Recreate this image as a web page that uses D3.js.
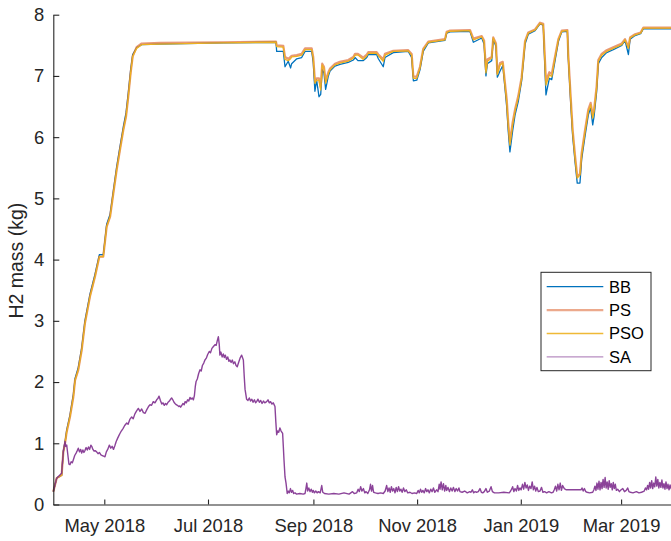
<!DOCTYPE html>
<html>
<head>
<meta charset="utf-8">
<script src="https://cdn.jsdelivr.net/npm/d3@7"></script>
<style>
  body { margin: 0; background: #fff; }
  svg { display: block; font-family: "Liberation Sans", Arial, sans-serif; }
</style>
</head>
<body>
<div id="chart-container"></div>
<script>
// H2 mass per method, samples
const startDate = "2018-04-01";
const endDate = "2019-04-01";
const seriesNames = ["BB", "PS", "PSO", "SA"];
const yTicks = [0, 1, 2, 3, 4, 5, 6, 7, 8];

// days since startDate for the three storage curves
const upperDays = [
  0, 2, 4.9, 5.9, 6.9, 7.9, 9.8, 11.8, 12.8, 14.7, 16.7, 18.6, 21.6, 24.5, 27.1, 29.4,
  31.4, 33.4, 35.3, 37.3, 39.2, 41.2, 42.8, 44.1, 45.5, 46.7, 49, 52, 62.8, 100, 131,
  131.4, 135.3, 136.3, 138.2, 139.6, 140.2, 143.2, 146.1, 148.1, 152, 152.9, 153.9, 154.9,
  156.3, 157.3, 158.2, 159.2, 160.2, 161.8, 162.8, 165.7, 168.6, 173.5, 176.5, 177.5,
  179.2, 182.4, 184.4, 185.3, 190.2, 191.2, 194.1, 195.1, 200, 208.8, 210.8, 211.8, 213.8,
  215.7, 217.6, 220.6, 230.4, 231.4, 233.4, 245.1, 247.1, 252, 253.4, 254.5, 255.3, 257.9,
  258.8, 260.4, 261.2, 262.8, 264.4, 265.7, 266.7, 267.6, 268.6, 270.2, 271.6, 273.5,
  275.5, 277.5, 279.4, 283.4, 286.3, 288.2, 289.8, 291.8, 293.2, 295.1, 297.1, 299.1,
  302.4, 302.9, 304.3, 305.5, 306.9, 308.2, 309.8, 310.8, 312.8, 314.7, 316.1, 317.3,
  318.1, 319.6, 320.6, 322.6, 325.5, 329.4, 334.4, 336.3, 338.3, 339.3, 342.2, 345.5,
  347.1, 365
];
const bbValues = [
  0.21, 0.43, 0.48, 0.88, 1.02, 1.22, 1.46, 1.80, 2.06, 2.24, 2.56, 3.00, 3.44, 3.76, 4.08, 4.08,
  4.58, 4.74, 5.12, 5.52, 5.84, 6.17, 6.40, 6.72, 7.10, 7.35, 7.46, 7.51, 7.52, 7.54, 7.55,
  7.40, 7.40, 7.15, 7.24, 7.13, 7.20, 7.28, 7.30, 7.40, 7.40, 7.22, 6.75, 6.93,
  6.66, 6.70, 7.10, 7.05, 6.78, 7.00, 7.08, 7.16, 7.19, 7.22, 7.26, 7.30,
  7.25, 7.25, 7.30, 7.35, 7.35, 7.28, 7.15, 7.30, 7.38, 7.40, 7.30, 6.92, 6.93,
  7.10, 7.40, 7.54, 7.58, 7.70, 7.72, 7.73, 7.55, 7.62, 7.52, 7.00, 7.20, 7.25,
  7.60, 7.48, 6.98, 7.08, 7.17, 6.80, 6.50, 6.10, 5.76, 6.10, 6.36, 6.58,
  6.92, 7.52, 7.68, 7.74, 7.85, 7.83, 6.69, 6.96, 6.94, 7.24, 7.56, 7.72,
  7.73, 7.30, 6.58, 6.02, 5.60, 5.25, 5.25, 5.64, 6.02, 6.36, 6.48, 6.20,
  6.34, 6.74, 7.20, 7.30, 7.38, 7.43, 7.50, 7.58, 7.35, 7.60, 7.66, 7.69,
  7.77, 7.77
];
const psValues = [
  0.21, 0.43, 0.48, 0.86, 1.00, 1.19, 1.43, 1.76, 2.03, 2.20, 2.52, 2.96, 3.40, 3.72, 4.05, 4.05,
  4.54, 4.70, 5.08, 5.47, 5.79, 6.12, 6.34, 6.66, 7.05, 7.32, 7.47, 7.53, 7.54, 7.55, 7.56,
  7.50, 7.49, 7.31, 7.28, 7.31, 7.33, 7.34, 7.36, 7.45, 7.45, 7.31, 6.92, 6.96,
  6.96, 6.82, 7.20, 7.15, 6.92, 7.06, 7.12, 7.20, 7.23, 7.26, 7.31, 7.36,
  7.36, 7.30, 7.35, 7.39, 7.39, 7.35, 7.27, 7.36, 7.41, 7.42, 7.36, 6.99, 6.99,
  7.15, 7.44, 7.56, 7.60, 7.72, 7.74, 7.75, 7.61, 7.65, 7.58, 7.10, 7.27, 7.31,
  7.63, 7.53, 7.05, 7.21, 7.23, 6.88, 6.62, 6.24, 5.92, 6.24, 6.45, 6.67,
  6.98, 7.57, 7.71, 7.76, 7.87, 7.85, 6.92, 7.06, 7.03, 7.31, 7.60, 7.74,
  7.75, 7.36, 6.68, 6.12, 5.70, 5.36, 5.40, 5.74, 6.12, 6.45, 6.56, 6.36,
  6.45, 6.83, 7.26, 7.36, 7.42, 7.47, 7.53, 7.60, 7.47, 7.63, 7.68, 7.71,
  7.79, 7.79
];
const psoValues = [
  0.21, 0.43, 0.48, 0.86, 1.00, 1.19, 1.43, 1.76, 2.03, 2.20, 2.52, 2.96, 3.40, 3.72, 4.05, 4.05,
  4.54, 4.70, 5.08, 5.47, 5.79, 6.12, 6.34, 6.66, 7.05, 7.32, 7.45, 7.51, 7.52, 7.54, 7.55,
  7.48, 7.47, 7.27, 7.25, 7.28, 7.31, 7.32, 7.34, 7.43, 7.43, 7.29, 6.88, 6.93,
  6.93, 6.77, 7.18, 7.12, 6.88, 7.04, 7.10, 7.18, 7.21, 7.24, 7.29, 7.34,
  7.34, 7.27, 7.33, 7.37, 7.37, 7.33, 7.24, 7.34, 7.40, 7.41, 7.34, 6.96, 6.96,
  7.13, 7.43, 7.55, 7.59, 7.71, 7.73, 7.74, 7.59, 7.64, 7.56, 7.05, 7.24, 7.29,
  7.62, 7.51, 7.02, 7.18, 7.21, 6.85, 6.58, 6.20, 5.87, 6.20, 6.42, 6.64,
  6.96, 7.56, 7.70, 7.75, 7.86, 7.84, 6.85, 7.02, 6.99, 7.29, 7.59, 7.73,
  7.74, 7.34, 6.64, 6.09, 5.66, 5.33, 5.38, 5.71, 6.09, 6.42, 6.53, 6.31,
  6.42, 6.80, 7.24, 7.34, 7.40, 7.45, 7.51, 7.59, 7.45, 7.62, 7.67, 7.70,
  7.78, 7.78
];

// SA has its own, denser time axis
const saDays = [
  0, 2, 4.9, 5.9, 6.9, 7.3, 7.9, 8.6, 9.2, 9.8, 10.5, 11.2, 11.8, 12.6, 13.4, 14.1, 14.7,
  15.4, 16.1, 16.7, 17.4, 18, 18.6, 19.3, 20, 20.7, 21.4, 22.1, 22.6, 23.3, 24, 24.6, 25.5,
  26.3, 27.1, 28, 28.8, 29.6, 30.4, 31.2, 32, 33, 33.8, 34.6, 35.4, 36.2, 37, 37.8, 38.5,
  39.2, 40, 41, 42, 43.2, 44, 45, 46.1, 47, 48, 49, 50, 51, 52, 53, 54, 55, 56, 56.9,
  57.8, 58.8, 59.8, 60.8, 61.5, 62.2, 63, 63.8, 64.5, 65.3, 66, 66.7, 67.5, 68.3, 69, 69.6,
  70.3, 71, 71.6, 72.3, 73, 73.8, 74.4, 74.9, 75.6, 76.3, 77, 77.5, 78.3, 79, 79.7, 80.4,
  81, 81.7, 82.4, 83, 83.5, 84, 84.7, 85.5, 86.3, 87, 87.7, 88.5, 89.2, 90, 90.8, 91.8,
  92.5, 93.3, 94.2, 95.1, 95.8, 96.5, 97.1, 97.6, 98, 98.6, 99.3, 100, 100.6, 101.2, 101.9,
  102.6, 103.3, 103.9, 104.6, 105.3, 106, 106.8, 107.5, 108.2, 109, 110, 110.8, 111.8,
  112.3, 112.8, 113.7, 114.5, 115.3, 116, 116.8, 117.5, 118.3, 119, 119.6, 120.4, 121.2,
  122, 122.8, 123.6, 124.4, 125.5, 126.3, 127, 127.8, 128.6, 129.4, 130.4, 130.9, 131.4,
  132, 132.6, 133.3, 134, 134.9, 135.3, 135.7, 136.3, 136.9, 137.6, 138.2, 138.8, 139.5,
  140.1, 140.8, 141.4, 142.2, 143, 145, 147, 148.1, 148.6, 149.1, 149.6, 150.3, 151, 151.7,
  152.4, 152.9, 153.6, 154.4, 155.2, 156, 157, 157.9, 158.5, 159.5, 162, 165, 168, 171, 174,
  176, 177, 178.5, 179.3, 180, 180.8, 181.5, 182.4, 183.2, 184, 185, 186, 186.6, 187.2,
  187.8, 188.4, 189.5, 191, 192.5, 194.1, 195.2, 196.1, 196.8, 197.5, 198.2, 198.9, 199.6,
  200.3, 201, 201.7, 202.4, 203.1, 203.8, 204.5, 205.2, 206, 206.8, 207.6, 208.5, 209.8,
  211, 212.5, 213.8, 214.6, 215.3, 216, 216.7, 217.4, 218.2, 219, 219.7, 220.4, 221.2, 222,
  222.8, 223.6, 224.4, 225.5, 226.3, 227, 227.5, 228.1, 228.8, 229.5, 230.2, 230.9, 231.4,
  232.2, 233, 233.8, 234.6, 235.4, 236.2, 237, 237.8, 238.6, 239.2, 240.5, 242, 243.5, 245,
  245.7, 246.5, 247.3, 248, 249, 250, 251, 251.8, 252.6, 253.5, 254.5, 255.3, 256.5, 257.5,
  258.3, 259.5, 262, 265, 268.2, 269, 269.6, 270.2, 270.9, 271.6, 272.4, 273.1, 273.8,
  274.5, 275.2, 276, 276.7, 277.4, 278.1, 278.8, 279.5, 280.2, 281, 281.7, 282.4, 283.1,
  283.8, 284.5, 285.3, 286.3, 287.2, 288, 289, 290.2, 291.5, 293, 294, 294.7, 295.4, 296.1,
  296.8, 297.5, 298.2, 298.9, 299.6, 300.6, 301.6, 310.4, 311, 311.7, 312.4, 313.2, 314,
  315.5, 317.3, 318, 318.6, 319.2, 319.8, 320.4, 321, 321.6, 322.2, 322.8, 323.4, 324,
  324.6, 325.2, 325.8, 326.4, 327, 327.6, 328.2, 328.8, 329.4, 330, 330.6, 331.2, 332, 333,
  334, 335, 336, 337, 337.9, 338.6, 339.5, 341, 343, 344.5, 346, 347.6, 348.3, 349, 349.6,
  350.2, 350.8, 351.4, 352, 352.6, 353.2, 353.8, 354.4, 355, 355.6, 356.2, 356.8, 357.4,
  358, 358.6, 359.2, 359.8, 360.4, 361, 361.6, 362.2, 362.8, 363.4, 364, 364.6, 365
];
const saValues = [
  0.21, 0.43, 0.51, 0.86, 1.03, 0.95, 0.97, 0.80, 0.66, 0.65, 0.70, 0.68, 0.73, 0.80, 0.84, 0.88, 0.92,
  0.86, 0.90, 0.84, 0.89, 0.85, 0.88, 0.93, 0.89, 0.94, 0.90, 0.97, 0.95, 0.90, 0.87, 0.88, 0.86,
  0.83, 0.85, 0.81, 0.80, 0.79, 0.78, 0.86, 0.90, 0.97, 0.92, 0.95, 0.90, 0.96, 1.03, 1.08, 1.12,
  1.16, 1.20, 1.24, 1.29, 1.33, 1.31, 1.39, 1.43, 1.40, 1.48, 1.53, 1.57, 1.52, 1.56, 1.50, 1.49, 1.55, 1.60, 1.63,
  1.62, 1.68, 1.66, 1.71, 1.73, 1.77, 1.70, 1.64, 1.66, 1.62, 1.65, 1.63, 1.67, 1.69, 1.72, 1.74,
  1.71, 1.67, 1.65, 1.63, 1.62, 1.60, 1.61, 1.59, 1.62, 1.65, 1.63, 1.68, 1.66, 1.71, 1.69, 1.75,
  1.72, 1.74, 1.71, 1.78, 1.92, 2.01, 2.05, 2.14, 2.20, 2.18, 2.27, 2.31, 2.36, 2.39, 2.45, 2.50,
  2.48, 2.55, 2.58, 2.61, 2.60, 2.68, 2.74, 2.62, 2.44, 2.49, 2.41, 2.46, 2.40, 2.44, 2.37,
  2.41, 2.34, 2.36, 2.32, 2.36, 2.30, 2.33, 2.27, 2.25, 2.32, 2.40, 2.44, 2.36,
  2.10, 1.88, 1.72, 1.70, 1.74, 1.69, 1.72, 1.67, 1.71, 1.66, 1.68, 1.72, 1.67,
  1.70, 1.65, 1.69, 1.66, 1.68, 1.71, 1.66, 1.68, 1.64, 1.66, 1.60, 1.35, 1.14,
  1.20, 1.18, 1.25, 1.20, 1.16, 0.95, 0.73, 0.45, 0.35, 0.18, 0.22, 0.19, 0.26,
  0.20, 0.23, 0.18, 0.19, 0.17, 0.18, 0.17, 0.18, 0.26, 0.35, 0.22, 0.27, 0.21, 0.25,
  0.20, 0.23, 0.19, 0.22, 0.19, 0.21, 0.19, 0.31, 0.20, 0.18, 0.17, 0.18, 0.17, 0.19, 0.17,
  0.21, 0.18, 0.19, 0.25, 0.21, 0.29, 0.22, 0.26, 0.19, 0.21, 0.18, 0.24, 0.33, 0.22,
  0.31, 0.20, 0.19, 0.18, 0.19, 0.18, 0.22, 0.31, 0.21, 0.27, 0.20, 0.29, 0.22,
  0.26, 0.19, 0.28, 0.21, 0.29, 0.22, 0.25, 0.20, 0.27, 0.21, 0.24, 0.19, 0.20,
  0.18, 0.19, 0.18, 0.23, 0.19, 0.25, 0.20, 0.23, 0.19, 0.26, 0.21, 0.24, 0.19, 0.25,
  0.21, 0.27, 0.20, 0.24, 0.21, 0.33, 0.25, 0.37, 0.24, 0.34, 0.22, 0.31, 0.23,
  0.28, 0.21, 0.27, 0.22, 0.28, 0.21, 0.26, 0.22, 0.27, 0.21, 0.20, 0.22, 0.19, 0.21,
  0.20, 0.24, 0.19, 0.21, 0.20, 0.21, 0.26, 0.20, 0.19, 0.21, 0.26, 0.20, 0.22, 0.29,
  0.21, 0.19, 0.19, 0.20, 0.19, 0.22, 0.25, 0.29, 0.21, 0.26, 0.22, 0.31, 0.23,
  0.27, 0.24, 0.33, 0.25, 0.36, 0.27, 0.32, 0.23, 0.30, 0.26, 0.37, 0.24, 0.30,
  0.22, 0.28, 0.21, 0.22, 0.28, 0.20, 0.21, 0.19, 0.21, 0.19, 0.20, 0.24, 0.30, 0.22,
  0.33, 0.24, 0.35, 0.23, 0.31, 0.26, 0.24, 0.24, 0.27, 0.22, 0.26, 0.21, 0.20,
  0.19, 0.20, 0.24, 0.30, 0.23, 0.35, 0.25, 0.38, 0.24, 0.36, 0.26, 0.41, 0.28,
  0.44, 0.27, 0.37, 0.25, 0.39, 0.28, 0.34, 0.24, 0.36, 0.26, 0.33, 0.23, 0.25, 0.21,
  0.24, 0.26, 0.21, 0.23, 0.27, 0.21, 0.20, 0.19, 0.21, 0.19, 0.20, 0.22, 0.27, 0.24, 0.31,
  0.25, 0.36, 0.27, 0.39, 0.26, 0.35, 0.29, 0.45, 0.30, 0.41, 0.27, 0.36, 0.28,
  0.40, 0.27, 0.34, 0.25, 0.37, 0.26, 0.33, 0.24, 0.32, 0.26, 0.35, 0.27, 0.30
];

const width = 671, height = 541;
const margin = {top: 14.7, right: -2.8, bottom: 36.5, left: 53.3};
const innerWidth = width - margin.left - margin.right;
const innerHeight = height - margin.top - margin.bottom;
const axisColor = "#262626";

const svg = d3.select("#chart-container")
  .append("svg")
  .attr("width", width)
  .attr("height", height);

const g = svg.append("g").attr("transform", `translate(${margin.left},${margin.top})`);

const t0 = new Date(startDate + "T00:00:00Z");
const toDate = d => new Date(t0.getTime() + d * 864e5);

const x = d3.scaleUtc()
  .domain([t0, new Date(endDate + "T00:00:00Z")])
  .range([0, innerWidth]);

const y = d3.scaleLinear()
  .domain([0, 8])
  .range([innerHeight, 0]);

const line = d3.line()
  .x(d => x(d.date))
  .y(d => y(d.value));

const toPoints = (days, vals) => days.map((d, i) => ({date: toDate(d), value: vals[i]}));

const series = [
  {name: "BB", points: toPoints(upperDays, bbValues), color: "#0072BD", width: 1.3, opacity: 1, legendOpacity: 1},
  {name: "PS", points: toPoints(upperDays, psValues), color: "#D95319", width: 2.2, opacity: 0.6, legendOpacity: 0.5},
  {name: "PSO", points: toPoints(upperDays, psoValues), color: "#EDB120", width: 1.3, opacity: 1, legendOpacity: 0.9},
  {name: "SA", points: toPoints(saDays, saValues), color: "#7E2F8E", width: 1.4, opacity: 0.9, legendOpacity: 0.55}
];

// lines
g.selectAll("path.series")
  .data(series)
  .join("path")
    .attr("class", "series")
    .attr("fill", "none")
    .attr("stroke", d => d.color)
    .attr("stroke-width", d => d.width)
    .attr("stroke-opacity", d => d.opacity)
    .attr("stroke-linejoin", "round")
    .attr("d", d => line(d.points));

// axes, ticks pointing inward as in the source figure
const xAxis = d3.axisBottom(x)
  .ticks(d3.utcMonth.every(2))
  .tickFormat(d3.utcFormat("%b %Y"))
  .tickSize(-5)
  .tickSizeOuter(0)
  .tickPadding(14);

const yAxis = d3.axisLeft(y)
  .tickValues(yTicks)
  .tickFormat(d3.format("d"))
  .tickSize(-6)
  .tickSizeOuter(0)
  .tickPadding(9);

const gx = g.append("g")
  .attr("transform", `translate(0,${innerHeight})`)
  .call(xAxis);

const gy = g.append("g").call(yAxis);

[gx, gy].forEach(a => {
  a.select(".domain").attr("stroke", axisColor).attr("stroke-width", 1.1);
  a.selectAll(".tick line").attr("stroke", axisColor).attr("stroke-width", 1.1);
  a.selectAll(".tick text")
    .attr("fill", axisColor)
    .style("font-size", "18.4px")
    .style("font-family", "'Liberation Sans', Arial, sans-serif");
});

// y label
svg.append("text")
  .attr("transform", `translate(22.5,${margin.top + innerHeight / 2 + 1}) rotate(-90)`)
  .attr("text-anchor", "middle")
  .attr("fill", axisColor)
  .style("font-size", "19.5px")
  .text("H2 mass (kg)");

// legend
const legend = svg.append("g").attr("transform", "translate(541,272.3)");
legend.append("rect")
  .attr("width", 110)
  .attr("height", 98.4)
  .attr("fill", "#fff")
  .attr("stroke", axisColor)
  .attr("stroke-width", 1);

const row = legend.selectAll("g.row")
  .data(series)
  .join("g")
    .attr("class", "row")
    .attr("transform", (d, i) => `translate(0,${14.4 + i * 23.4})`);

row.append("line")
  .attr("x1", 5.7).attr("x2", 62.3)
  .attr("stroke", d => d.color)
  .attr("stroke-width", d => d.width)
  .attr("stroke-opacity", d => d.legendOpacity);

row.append("text")
  .attr("x", 68)
  .attr("dy", "0.36em")
  .attr("fill", "#000")
  .style("font-size", "16.5px")
  .text(d => d.name);
</script>
</body>
</html>
